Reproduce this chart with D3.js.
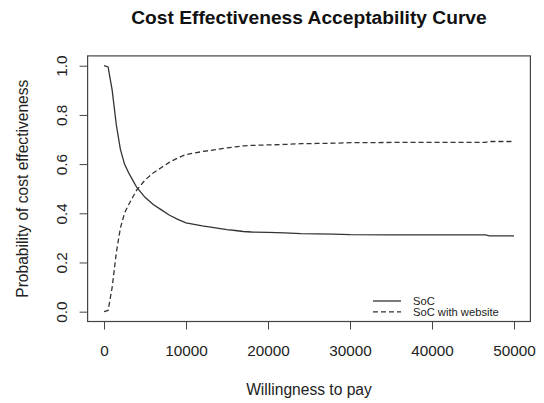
<!DOCTYPE html>
<html>
<head>
<meta charset="utf-8">
<script src="https://cdn.jsdelivr.net/npm/d3@7"></script>
<style>
  body { margin: 0; background: #fff; }
  svg { display: block; font-family: "Liberation Sans", Arial, sans-serif; }
  .tick text { fill: #222; }
</style>
</head>
<body>
<div id="chart"></div>
<script>
var W = 544, H = 403;

// willingness to pay grid and probabilities
var wtp = [0, 500, 1000, 1500, 2000, 2500, 3000, 3500, 4000, 4500, 5000, 6000, 7000, 8000, 9000,
           10000, 11000, 12000, 13000, 14000, 15000, 16000, 17000, 18000, 20000, 22000, 24000,
           26000, 28000, 30000, 35000, 40000, 45000, 46500, 47000, 50000];
var soc = [1.000, 0.995, 0.900, 0.760, 0.660, 0.600, 0.565, 0.535, 0.505, 0.485, 0.465, 0.436, 0.414, 0.392, 0.375,
           0.361, 0.355, 0.349, 0.344, 0.339, 0.334, 0.330, 0.326, 0.324, 0.322, 0.320, 0.317,
           0.316, 0.315, 0.313, 0.312, 0.312, 0.312, 0.312, 0.308, 0.308];
var website = [0.000, 0.005, 0.100, 0.240, 0.340, 0.400, 0.435, 0.465, 0.495, 0.515, 0.535, 0.564, 0.586, 0.608, 0.625,
               0.639, 0.645, 0.651, 0.656, 0.661, 0.666, 0.670, 0.674, 0.676, 0.678, 0.680, 0.683,
               0.684, 0.685, 0.687, 0.688, 0.688, 0.688, 0.688, 0.692, 0.692];

var xTicks = [0, 10000, 20000, 30000, 40000, 50000];
var yTicks = [0, 0.2, 0.4, 0.6, 0.8, 1.0];
var legendLabels = ["SoC", "SoC with website"];

var box = {left: 87.6, right: 530.4, top: 55.9, bottom: 321.5};

var svg = d3.select("#chart").append("svg")
  .attr("width", W)
  .attr("height", H);

/*Scales*/
var xScale = d3.scaleLinear().domain([-2000, 52000]).range([box.left, box.right]);
var yScale = d3.scaleLinear().domain([-0.04, 1.04]).range([box.bottom, box.top]);

/*Axes*/
var xAxis = d3.axisBottom(xScale).tickValues(xTicks).tickSize(8).tickFormat(d3.format("d"));
var yAxis = d3.axisLeft(yScale).tickValues(yTicks).tickSize(8).tickFormat(d3.format(".1f"));

var gx = svg.append("g")
  .attr("transform", "translate(0," + box.bottom + ")")
  .call(xAxis);
gx.select(".domain").remove();
gx.selectAll(".tick line").attr("stroke", "#444");
gx.selectAll(".tick text")
  .attr("y", 34).attr("dy", null)
  .style("font-size", "15.3px");

var gy = svg.append("g")
  .attr("transform", "translate(" + box.left + ",0)")
  .call(yAxis);
gy.select(".domain").remove();
gy.selectAll(".tick line").attr("stroke", "#444");
gy.selectAll(".tick text")
  .attr("x", null).attr("dy", null)
  .attr("text-anchor", "middle")
  .attr("transform", "translate(-21,0) rotate(-90)")
  .style("font-size", "15.3px");

/*Box*/
svg.append("rect")
  .attr("x", box.left).attr("y", box.top)
  .attr("width", box.right - box.left).attr("height", box.bottom - box.top)
  .attr("fill", "none").attr("stroke", "#444").attr("stroke-width", 1.2);

/*Lines*/
var line = function(vals) {
  return d3.line()
    .x(function(d, i) { return xScale(wtp[i]); })
    .y(function(d) { return yScale(d); })(vals);
};

svg.append("path")
  .attr("d", line(soc))
  .attr("fill", "none").attr("stroke", "#333").attr("stroke-width", 1.3);
svg.append("path")
  .attr("d", line(website))
  .attr("fill", "none").attr("stroke", "#333").attr("stroke-width", 1.3)
  .attr("stroke-dasharray", "5,3");

/*Legend*/
var leg = svg.append("g").attr("transform", "translate(373,301)");
legendLabels.forEach(function(lab, i) {
  leg.append("line")
    .attr("x1", 0).attr("x2", 28)
    .attr("y1", i * 10.8).attr("y2", i * 10.8)
    .attr("stroke", "#333").attr("stroke-width", 1.3)
    .attr("stroke-dasharray", i === 1 ? "5,3" : null);
  leg.append("text")
    .attr("x", 40).attr("y", i * 10.8 + 4.2)
    .style("font-size", "11.2px").attr("fill", "#222")
    .text(lab);
});

/*Titles*/
svg.append("text")
  .attr("x", (box.left + box.right) / 2).attr("y", 24)
  .attr("text-anchor", "middle")
  .style("font-size", "19.2px").style("font-weight", "bold").attr("fill", "#111")
  .text("Cost Effectiveness Acceptability Curve");

svg.append("text")
  .attr("x", (box.left + box.right) / 2).attr("y", 395)
  .attr("text-anchor", "middle")
  .style("font-size", "15.6px").attr("fill", "#222")
  .text("Willingness to pay");

svg.append("text")
  .attr("transform", "translate(27.5," + yScale(0.5) + ") rotate(-90)")
  .attr("text-anchor", "middle")
  .style("font-size", "15.6px").attr("fill", "#222")
  .text("Probability of cost effectiveness");
</script>
</body>
</html>
